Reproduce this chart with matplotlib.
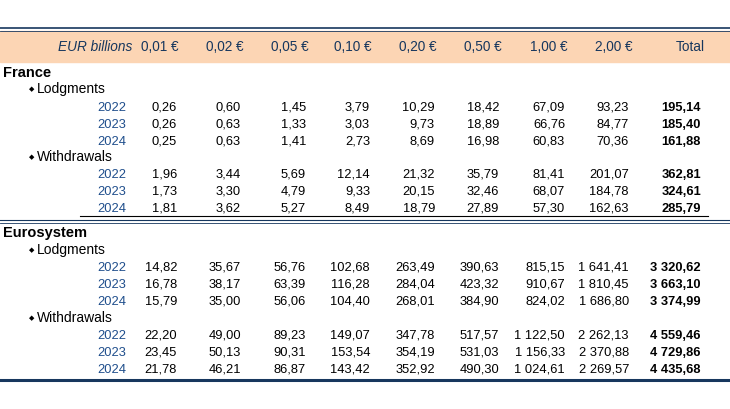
import matplotlib
matplotlib.use("Agg")
import matplotlib.pyplot as plt
from matplotlib.patches import Rectangle

columns = ["0,01 €", "0,02 €", "0,05 €", "0,10 €", "0,20 €", "0,50 €", "1,00 €", "2,00 €", "Total"]
years = ["2022", "2023", "2024"]
france_lodg = [["0,26","0,60","1,45","3,79","10,29","18,42","67,09","93,23","195,14"],
               ["0,26","0,63","1,33","3,03","9,73","18,89","66,76","84,77","185,40"],
               ["0,25","0,63","1,41","2,73","8,69","16,98","60,83","70,36","161,88"]]
france_withd = [["1,96","3,44","5,69","12,14","21,32","35,79","81,41","201,07","362,81"],
                ["1,73","3,30","4,79","9,33","20,15","32,46","68,07","184,78","324,61"],
                ["1,81","3,62","5,27","8,49","18,79","27,89","57,30","162,63","285,79"]]
euro_lodg = [["14,82","35,67","56,76","102,68","263,49","390,63","815,15","1 641,41","3 320,62"],
             ["16,78","38,17","63,39","116,28","284,04","423,32","910,67","1 810,45","3 663,10"],
             ["15,79","35,00","56,06","104,40","268,01","384,90","824,02","1 686,80","3 374,99"]]
euro_withd = [["22,20","49,00","89,23","149,07","347,78","517,57","1 122,50","2 262,13","4 559,46"],
              ["23,45","50,13","90,31","153,54","354,19","531,03","1 156,33","2 370,88","4 729,86"],
              ["21,78","46,21","86,87","143,42","352,92","490,30","1 024,61","2 269,57","4 435,68"]]

W, H = 730, 410
fig = plt.figure(figsize=(7.3, 4.1), dpi=100)
ax = fig.add_axes([0, 0, 1, 1])
ax.set_xlim(0, W); ax.set_ylim(H, 0); ax.axis("off")

blue = "#1F4E8C"
navy = "#17375E"
font = "Liberation Sans"
fs = 9.3

ax.add_patch(Rectangle((0, 32), W, 31, color="#FCD5B4", zorder=0))
ax.plot([0, W], [29, 29], color=navy, lw=1.2)
ax.plot([0, W], [31.5, 31.5], color=navy, lw=0.6)
ax.text(95, 47, "EUR billions", ha="center", va="center", style="italic", color=navy, fontsize=9.8, family=font)
hx = [160, 225, 290, 353, 418, 483, 549, 614, 690]
for x, c in zip(hx, columns):
    ax.text(x, 47, c, ha="center", va="center", color=navy, fontsize=9.8, family=font)

rx = [177, 241, 306, 370, 435, 499, 565, 629, 701]

def block(rows, y0):
    for i, (yr, r) in enumerate(zip(years, rows)):
        y = y0 + i * 16.8
        ax.text(126, y, yr, ha="right", va="center", color=blue, fontsize=fs, family=font)
        for j, (x, v) in enumerate(zip(rx, r)):
            ax.text(x, y, v, ha="right", va="center", color="black", fontsize=fs, family=font,
                    weight="bold" if j == 8 else "normal")

def bullet(y, label):
    ax.text(29, y, "\u25c6", ha="left", va="center", fontsize=5, family="DejaVu Sans")
    ax.text(37, y, label, ha="left", va="center", fontsize=10, family=font)

ax.text(3, 73, "France", ha="left", va="center", weight="bold", fontsize=10.5, family=font)
bullet(89, "Lodgments")
block(france_lodg, 108)
bullet(157, "Withdrawals")
block(france_withd, 175)
ax.plot([80, 708], [217, 217], color="black", lw=0.8)
ax.plot([0, W], [221, 221], color=navy, lw=0.8)
ax.plot([0, W], [223.5, 223.5], color=navy, lw=0.6)

ax.text(3, 233, "Eurosystem", ha="left", va="center", weight="bold", fontsize=10.5, family=font)
bullet(250, "Lodgments")
block(euro_lodg, 268)
bullet(318, "Withdrawals")
block(euro_withd, 336)
ax.plot([0, W], [381, 381], color=navy, lw=2.2)

fig.savefig("out.png", dpi=100)
